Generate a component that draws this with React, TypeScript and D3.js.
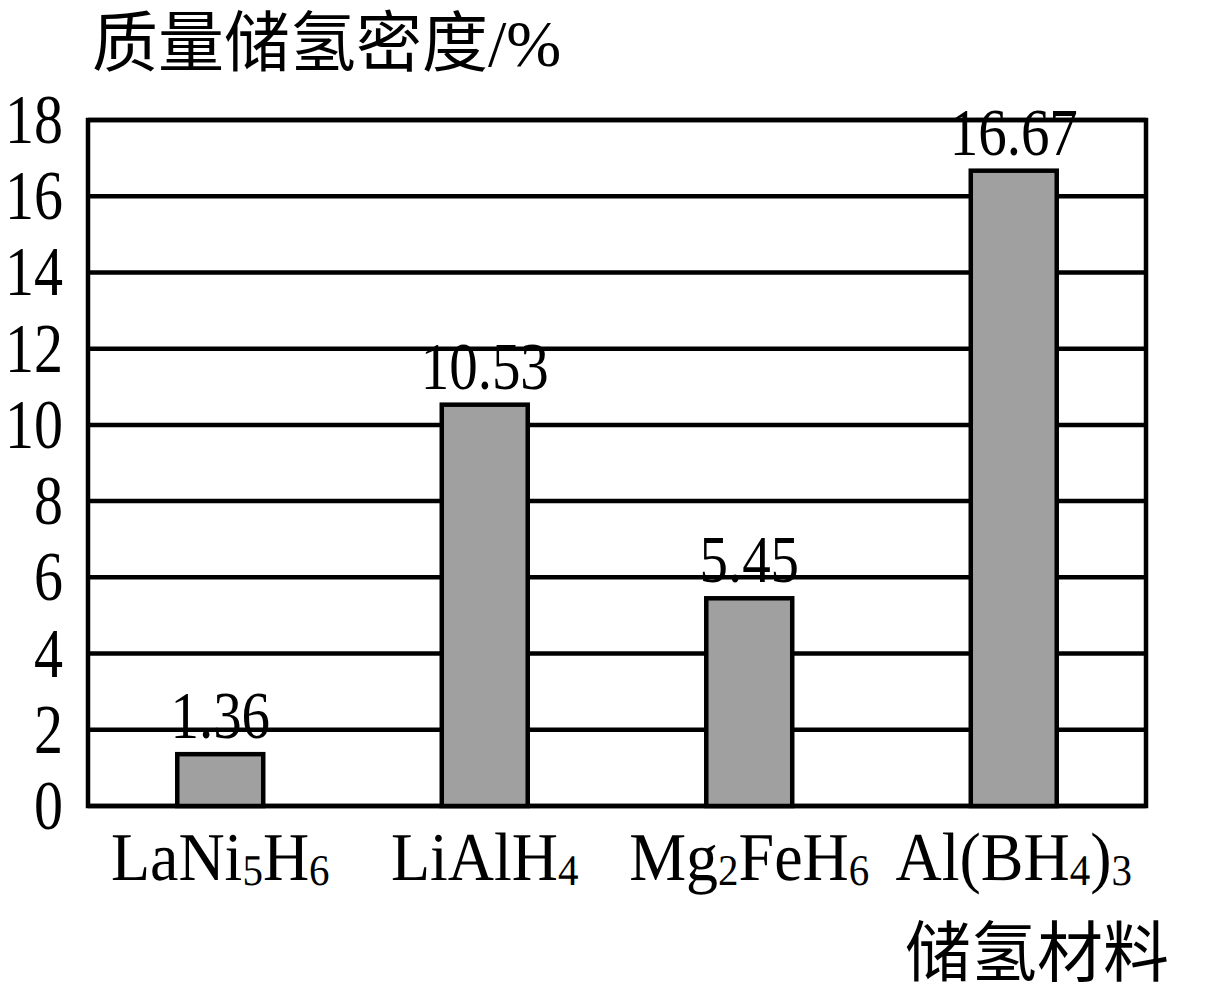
import React from "react";
import * as d3 from "d3";

// Mass hydrogen storage density of several hydrogen-storage materials
const materials = ["LaNi5H6", "LiAlH4", "Mg2FeH6", "Al(BH4)3"];
const densities = [1.36, 10.53, 5.45, 16.67];
const yTicks = [0, 2, 4, 6, 8, 10, 12, 14, 16, 18];
const yTitle = "质量储氢密度/%";
const xTitle = "储氢材料";

const W = 1210;
const H = 998;
const plot = { left: 88, right: 1146, top: 120, bottom: 806 };
const FONT = "'Liberation Serif', 'Times New Roman', 'Noto Sans CJK SC', serif";
const CJK = "'Noto Sans CJK SC', 'Liberation Serif', serif";

// Split a chemical formula so every digit run is drawn as a subscript
function formulaParts(f: string) {
  return f
    .split(/(\d+)/)
    .filter((s) => s.length > 0)
    .map((s) => ({ text: s, sub: /^\d+$/.test(s) }));
}

export default function App() {
  const y = d3.scaleLinear().domain([0, 18]).range([plot.bottom, plot.top]);
  const x = d3
    .scaleBand<string>()
    .domain(materials)
    .range([plot.left, plot.right])
    .paddingInner(0.675)
    .paddingOuter(0.3375);

  const stroke = 4.5;
  const numStretch = 1.2; // tall, narrow numerals

  return (
    <svg
      width={W}
      height={H}
      style={{ position: "absolute", left: 0, top: 0, background: "#fff" }}
      fontFamily={FONT}
    >
      <rect x={0} y={0} width={W} height={H} fill="#fff" />

      {/* horizontal gridlines */}
      {yTicks.map((t) => (
        <line
          key={"g" + t}
          x1={plot.left}
          x2={plot.right}
          y1={y(t)}
          y2={y(t)}
          stroke="#000"
          strokeWidth={stroke}
        />
      ))}

      {/* plot frame */}
      <rect
        x={plot.left}
        y={plot.top}
        width={plot.right - plot.left}
        height={plot.bottom - plot.top}
        fill="none"
        stroke="#000"
        strokeWidth={stroke}
      />

      {/* y tick labels */}
      {yTicks.map((t) => (
        <text
          key={"t" + t}
          transform={`translate(${plot.left - 25},${y(t) + 23}) scale(1,${numStretch})`}
          textAnchor="end"
          fontSize={58}
          fill="#000"
        >
          {t}
        </text>
      ))}

      {/* bars */}
      {materials.map((m, i) => (
        <rect
          key={"b" + m}
          x={x(m)!}
          y={y(densities[i])}
          width={x.bandwidth()}
          height={y(0) - y(densities[i])}
          fill="#a0a0a0"
          stroke="#000"
          strokeWidth={stroke}
        />
      ))}

      {/* value labels */}
      {materials.map((m, i) => (
        <text
          key={"v" + m}
          transform={`translate(${x(m)! + x.bandwidth() / 2},${y(densities[i]) - 16}) scale(1,${numStretch})`}
          textAnchor="middle"
          fontSize={57}
          fill="#000"
        >
          {densities[i].toFixed(2)}
        </text>
      ))}

      {/* category labels with subscripts */}
      <g style={{ opacity: 0.999 }}>
        {materials.map((m) => {
          const parts = formulaParts(m);
          return (
            <text
              key={"c" + m}
              transform={`translate(${x(m)! + x.bandwidth() / 2},880) scale(1,1.07)`}
              textAnchor="middle"
              fontSize={64}
              fill="#000"
              textRendering="geometricPrecision"
            >
              {parts.map((p, j) =>
                p.sub ? (
                  <tspan key={j} fontSize={41} dy={5} fill="#000">
                    {p.text}
                  </tspan>
                ) : (
                  <tspan key={j} dy={j > 0 && parts[j - 1].sub ? -5 : 0} fill="#000">
                    {p.text}
                  </tspan>
                )
              )}
            </text>
          );
        })}
      </g>

      {/* axis titles */}
      <text x={92} y={66} fontSize={66} fill="#000" fontFamily={FONT}>
        {yTitle}
      </text>
      <text x={1169} y={976} textAnchor="end" fontSize={66} fill="#000" fontFamily={CJK}>
        {xTitle}
      </text>
    </svg>
  );
}
